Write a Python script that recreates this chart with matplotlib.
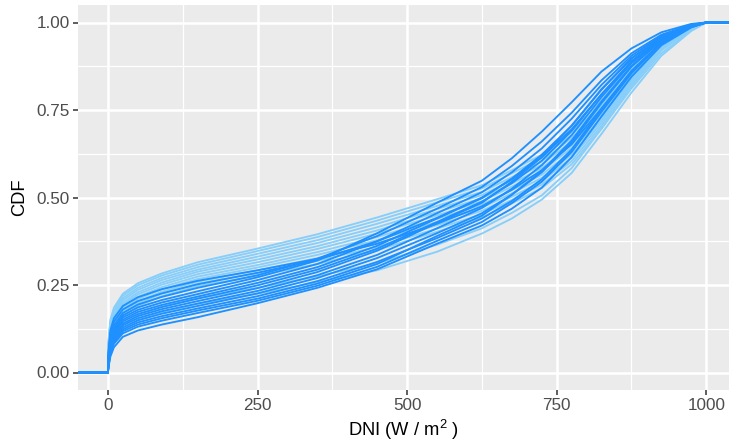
import matplotlib
matplotlib.use('Agg')
import matplotlib.pyplot as plt
from matplotlib.ticker import MultipleLocator, FuncFormatter

plt.rcParams['font.family'] = ['Liberation Sans', 'DejaVu Sans']
plt.rcParams['mathtext.fontset'] = 'custom'
plt.rcParams['mathtext.rm'] = 'Liberation Sans'
plt.rcParams['mathtext.it'] = 'Liberation Sans:italic'

dni = [1, 4, 10, 25, 50, 90, 150, 250, 350, 450, 550, 625, 675, 725, 775, 825, 875, 925, 975, 1000]

# light blue curves
la = [0.090, 0.150, 0.185, 0.225, 0.255, 0.283, 0.315, 0.354, 0.395, 0.443, 0.495, 0.535, 0.578, 0.622, 0.688, 0.778, 0.877, 0.950, 0.988, 1.0]
lb = [0.085, 0.143, 0.179, 0.219, 0.249, 0.277, 0.308, 0.347, 0.387, 0.434, 0.486, 0.526, 0.569, 0.613, 0.679, 0.770, 0.871, 0.947, 0.988, 1.0]
lc = [0.080, 0.137, 0.173, 0.212, 0.242, 0.270, 0.301, 0.339, 0.378, 0.425, 0.476, 0.516, 0.558, 0.603, 0.670, 0.762, 0.866, 0.944, 0.987, 1.0]
ld = [0.075, 0.130, 0.167, 0.206, 0.236, 0.264, 0.294, 0.331, 0.370, 0.415, 0.467, 0.507, 0.549, 0.594, 0.661, 0.754, 0.860, 0.941, 0.986, 1.0]
le = [0.070, 0.124, 0.161, 0.199, 0.229, 0.257, 0.288, 0.323, 0.361, 0.406, 0.458, 0.498, 0.540, 0.584, 0.651, 0.746, 0.854, 0.938, 0.986, 1.0]
lf = [0.065, 0.117, 0.155, 0.193, 0.223, 0.251, 0.281, 0.315, 0.353, 0.397, 0.449, 0.489, 0.531, 0.575, 0.642, 0.738, 0.848, 0.935, 0.985, 1.0]
lg = [0.060, 0.111, 0.149, 0.186, 0.216, 0.244, 0.274, 0.307, 0.344, 0.387, 0.439, 0.480, 0.521, 0.565, 0.632, 0.729, 0.842, 0.932, 0.985, 1.0]
lh = [0.055, 0.104, 0.143, 0.180, 0.210, 0.238, 0.267, 0.300, 0.336, 0.378, 0.430, 0.471, 0.512, 0.556, 0.623, 0.721, 0.836, 0.929, 0.984, 1.0]
li = [0.050, 0.098, 0.137, 0.173, 0.203, 0.231, 0.260, 0.292, 0.327, 0.369, 0.421, 0.462, 0.502, 0.546, 0.614, 0.713, 0.830, 0.926, 0.983, 1.0]
lj = [0.045, 0.091, 0.131, 0.167, 0.197, 0.225, 0.254, 0.284, 0.319, 0.359, 0.411, 0.452, 0.493, 0.537, 0.604, 0.705, 0.824, 0.923, 0.983, 1.0]
lk = [0.040, 0.085, 0.125, 0.160, 0.190, 0.218, 0.247, 0.276, 0.310, 0.350, 0.402, 0.443, 0.483, 0.527, 0.595, 0.697, 0.818, 0.920, 0.982, 1.0]
lm = [0.025, 0.058, 0.095, 0.135, 0.163, 0.188, 0.212, 0.242, 0.275, 0.312, 0.365, 0.412, 0.456, 0.506, 0.584, 0.697, 0.812, 0.912, 0.978, 1.0]
ll = [0.020, 0.050, 0.085, 0.125, 0.150, 0.172, 0.196, 0.225, 0.258, 0.292, 0.345, 0.397, 0.440, 0.494, 0.570, 0.682, 0.800, 0.905, 0.976, 1.0]

# dodger blue curves
d01 = [0.060, 0.120, 0.155, 0.190, 0.215, 0.238, 0.262, 0.292, 0.325, 0.368, 0.425, 0.475, 0.522, 0.578, 0.652, 0.755, 0.860, 0.942, 0.988, 1.0]
d02 = [0.055, 0.110, 0.145, 0.180, 0.204, 0.226, 0.252, 0.285, 0.322, 0.375, 0.442, 0.500, 0.552, 0.615, 0.695, 0.795, 0.885, 0.952, 0.991, 1.0]
d03 = [0.050, 0.100, 0.135, 0.170, 0.194, 0.216, 0.242, 0.278, 0.325, 0.390, 0.468, 0.530, 0.590, 0.660, 0.742, 0.835, 0.912, 0.965, 0.994, 1.0]
d04 = [0.045, 0.095, 0.128, 0.163, 0.186, 0.207, 0.232, 0.272, 0.320, 0.398, 0.485, 0.548, 0.612, 0.688, 0.772, 0.860, 0.926, 0.972, 0.996, 1.0]
d05 = [0.042, 0.090, 0.122, 0.157, 0.179, 0.200, 0.224, 0.264, 0.310, 0.375, 0.455, 0.515, 0.572, 0.640, 0.725, 0.822, 0.905, 0.962, 0.993, 1.0]
d06 = [0.040, 0.086, 0.117, 0.151, 0.173, 0.193, 0.217, 0.256, 0.301, 0.362, 0.440, 0.498, 0.554, 0.622, 0.705, 0.808, 0.897, 0.958, 0.992, 1.0]
d07 = [0.036, 0.081, 0.112, 0.146, 0.167, 0.187, 0.211, 0.249, 0.294, 0.354, 0.430, 0.488, 0.541, 0.605, 0.690, 0.795, 0.890, 0.955, 0.991, 1.0]
d08 = [0.034, 0.077, 0.107, 0.140, 0.161, 0.181, 0.204, 0.241, 0.287, 0.348, 0.427, 0.485, 0.545, 0.615, 0.705, 0.810, 0.898, 0.958, 0.992, 1.0]
d09 = [0.030, 0.072, 0.102, 0.135, 0.155, 0.175, 0.197, 0.233, 0.278, 0.336, 0.412, 0.470, 0.525, 0.592, 0.678, 0.787, 0.884, 0.952, 0.990, 1.0]
d10 = [0.027, 0.068, 0.097, 0.129, 0.149, 0.168, 0.190, 0.226, 0.270, 0.327, 0.398, 0.455, 0.508, 0.572, 0.657, 0.770, 0.874, 0.948, 0.989, 1.0]
d11 = [0.024, 0.063, 0.092, 0.123, 0.143, 0.161, 0.183, 0.218, 0.261, 0.316, 0.384, 0.440, 0.490, 0.552, 0.637, 0.752, 0.862, 0.943, 0.988, 1.0]
d12 = [0.020, 0.058, 0.087, 0.118, 0.137, 0.155, 0.177, 0.211, 0.254, 0.310, 0.390, 0.448, 0.508, 0.575, 0.663, 0.775, 0.876, 0.949, 0.989, 1.0]
d13 = [0.018, 0.053, 0.082, 0.112, 0.131, 0.148, 0.170, 0.205, 0.248, 0.302, 0.376, 0.430, 0.484, 0.545, 0.630, 0.745, 0.855, 0.940, 0.987, 1.0]
d14 = [0.015, 0.045, 0.072, 0.102, 0.120, 0.137, 0.158, 0.198, 0.242, 0.295, 0.368, 0.420, 0.468, 0.528, 0.615, 0.732, 0.845, 0.935, 0.986, 1.0]

light = [la, lb, lc, ld, le, lf, lg, lh, li, lj, lk, lm, ll]
dark = [d01, d02, d03, d04, d05, d06, d07, d08, d09, d10, d11, d12, d13, d14]


def full_curve(vals):
    # ecdf runs from -inf at 0 up to +inf at 1
    return [-200, 0] + dni + [1200], [0, 0] + vals + [1.0]


fig = plt.figure(figsize=(7.29, 4.45), dpi=100)
ax = fig.add_axes([78 / 729, 55 / 445, 651 / 729, 385 / 445])
ax.set_facecolor('#EBEBEB')

for c in light:
    xs, ys = full_curve(c)
    ax.plot(xs, ys, color='#87CEFA', lw=1.35, solid_joinstyle='round', zorder=3)
for c in dark:
    xs, ys = full_curve(c)
    ax.plot(xs, ys, color='#1E90FF', lw=1.35, solid_joinstyle='round', zorder=4)

ax.set_xlim(-50, 1038)
ax.set_ylim(-0.05, 1.05)
ax.xaxis.set_major_locator(MultipleLocator(250))
ax.xaxis.set_minor_locator(MultipleLocator(125))
ax.yaxis.set_major_locator(MultipleLocator(0.25))
ax.yaxis.set_minor_locator(MultipleLocator(0.125))
ax.yaxis.set_major_formatter(FuncFormatter(lambda v, p: '%.2f' % v))
ax.xaxis.set_major_formatter(FuncFormatter(lambda v, p: '%d' % v))

ax.grid(which='major', color='white', lw=1.8, zorder=0)
ax.grid(which='minor', color='white', lw=0.9, zorder=0)
ax.set_axisbelow(True)
for s in ax.spines.values():
    s.set_visible(False)

ax.tick_params(which='major', length=3.5, width=1.1, color='#333333',
               labelcolor='#4D4D4D', labelsize=12.3, pad=2.5)
ax.tick_params(which='minor', length=0)

ax.set_xlabel(r'DNI (W / m$^{2}$ )', fontsize=13.2, color='black', labelpad=3)
ax.set_ylabel('CDF', fontsize=13.2, color='black', labelpad=6)

fig.savefig('out.png', dpi=100)
